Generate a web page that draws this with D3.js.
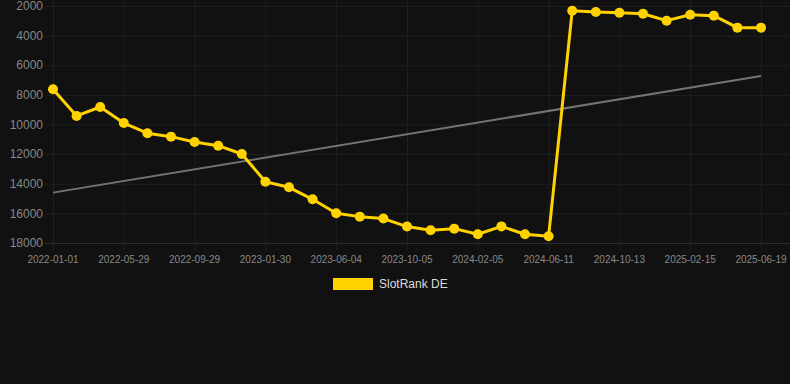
<!DOCTYPE html>
<html>
<head>
<meta charset="utf-8">
<script src="https://cdn.jsdelivr.net/npm/d3@7"></script>
<style>
  html, body { margin: 0; padding: 0; background: #111111; }
  svg { display: block; font-family: Arial, "Liberation Sans", sans-serif; }
</style>
</head>
<body>
<div id="chart"></div>
<script>
// Chart data
const dates = [
  "2022-01-01", "2022-02-11", "2022-04-18", "2022-05-29", "2022-06-19", "2022-07-30",
  "2022-09-29", "2022-10-26", "2022-12-03", "2023-01-30", "2023-02-28", "2023-04-10",
  "2023-06-04", "2023-07-01", "2023-08-12", "2023-10-05", "2023-11-02", "2023-12-10",
  "2024-02-05", "2024-03-04", "2024-04-20", "2024-06-11", "2024-07-09", "2024-08-24",
  "2024-10-13", "2024-11-10", "2024-12-28", "2025-02-15", "2025-03-15", "2025-05-01",
  "2025-06-19"
];
const rankValues = [
  7620, 9420, 8820, 9900, 10590, 10820, 11180, 11430, 11990, 13860, 14240, 15050,
  15990, 16220, 16350, 16890, 17140, 17030, 17410, 16880, 17410, 17550, 2320, 2400,
  2450, 2520, 2990, 2590, 2650, 3460, 3460
];
const trendValues = [14600, 6720]; // start and end of the trend line
const yTicks = [2000, 4000, 6000, 8000, 10000, 12000, 14000, 16000, 18000];
const seriesName = "SlotRank DE";

const width = 790;
const height = 384;
const plotLeft = 53;
const plotRight = 790;
const lastX = 761;
const plotTop = 6;
const plotBottom = 243;

const svg = d3.select("#chart")
  .append("svg")
  .attr("width", width)
  .attr("height", height)
  .attr("viewBox", [0, 0, width, height]);

svg.append("rect")
  .attr("width", width)
  .attr("height", height)
  .attr("fill", "#111111");

const x = d3.scalePoint()
  .domain(dates)
  .range([plotLeft, lastX]);

const y = d3.scaleLinear()
  .domain([2000, 18000])
  .range([plotTop, plotBottom]);

// Grid lines
const xTickDates = dates.filter((d, i) => i % 3 === 0);

svg.append("g")
  .selectAll("line")
  .data(yTicks)
  .join("line")
  .attr("x1", plotLeft - 8)
  .attr("x2", plotRight)
  .attr("y1", d => y(d) + 0.5)
  .attr("y2", d => y(d) + 0.5)
  .attr("stroke", d => d === 18000 ? "#2e2e2e" : "#1f1f1f")
  .attr("stroke-width", 1);

svg.append("g")
  .selectAll("line")
  .data(xTickDates)
  .join("line")
  .attr("x1", d => x(d) + 0.5)
  .attr("x2", d => x(d) + 0.5)
  .attr("y1", plotTop - 6)
  .attr("y2", plotBottom + 7)
  .attr("stroke", "#1f1f1f")
  .attr("stroke-width", 1);

// Axis labels
svg.append("g")
  .selectAll("text")
  .data(yTicks)
  .join("text")
  .attr("x", plotLeft - 10)
  .attr("y", d => y(d))
  .attr("dy", "0.35em")
  .attr("text-anchor", "end")
  .attr("fill", "#888888")
  .style("font-size", "12px")
  .text(d => d);

svg.append("g")
  .selectAll("text")
  .data(xTickDates)
  .join("text")
  .attr("x", d => x(d))
  .attr("y", plotBottom + 16)
  .attr("dy", "0.35em")
  .attr("text-anchor", "middle")
  .attr("fill", "#888888")
  .style("font-size", "10px")
  .text(d => d);

// Trend line
svg.append("line")
  .attr("x1", x(dates[0]))
  .attr("x2", x(dates[dates.length - 1]))
  .attr("y1", y(trendValues[0]))
  .attr("y2", y(trendValues[1]))
  .attr("stroke", "#737373")
  .attr("stroke-width", 2);

// Rank line
const data = dates.map((d, i) => ({ date: d, value: rankValues[i] }));

const line = d3.line()
  .x(d => x(d.date))
  .y(d => y(d.value));

svg.append("path")
  .datum(data)
  .attr("fill", "none")
  .attr("stroke", "#ffd200")
  .attr("stroke-width", 3)
  .attr("stroke-linejoin", "round")
  .attr("d", line);

svg.append("g")
  .selectAll("circle")
  .data(data)
  .join("circle")
  .attr("cx", d => x(d.date))
  .attr("cy", d => y(d.value))
  .attr("r", 5)
  .attr("fill", "#ffd200");

// Legend
const legend = svg.append("g");
legend.append("rect")
  .attr("x", 333)
  .attr("y", 278)
  .attr("width", 40)
  .attr("height", 12)
  .attr("fill", "#ffd200");
legend.append("text")
  .attr("x", 379)
  .attr("y", 284)
  .attr("dy", "0.35em")
  .attr("fill", "#dddddd")
  .style("font-size", "12px")
  .text(seriesName);
</script>
</body>
</html>
